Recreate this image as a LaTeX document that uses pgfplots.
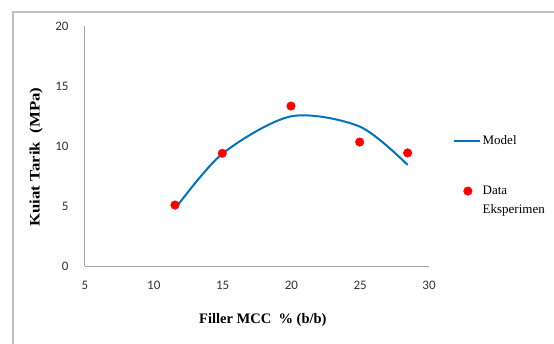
\documentclass[border=0pt]{standalone}
\usepackage{graphicx}
\usepackage{fontspec}
\setmainfont{Liberation Serif}
\newfontfamily\tickfont{Carlito}
\usepackage{pgfplots}
\pgfplotsset{compat=1.18}
\definecolor{modelblue}{RGB}{0,112,192}
\definecolor{framegray}{RGB}{191,191,191}
\definecolor{axisgray}{RGB}{166,166,166}
\pgfplotsset{
  lineleg/.style={legend image code/.code={\draw[##1] (0pt,0pt) -- (26pt,0pt);}},
  markleg/.style={legend image code/.code={\path[draw=none,fill=none] (0pt,0pt) -- (26pt,0pt);
     \draw[overlay,mark repeat=2,mark phase=2,##1] plot coordinates {(0pt,9.5pt)(13.7pt,9.5pt)(26pt,9.5pt)};}},
}
\begin{document}
\begin{tikzpicture}
\useasboundingbox (0,0) rectangle (554pt,343pt);
\draw[framegray, line width=1.5pt] (13pt,-5pt) -- (13pt,331pt) -- (560pt,331pt);
\begin{axis}[
  at={(85pt,77pt)}, anchor=south west,
  scale only axis, width=344pt, height=240pt,
  xmin=5, xmax=30, ymin=0, ymax=20,
  xtick={5,10,...,30}, ytick={0,5,...,20},
  axis x line=bottom, axis y line=left,
  axis line style={axisgray, line width=1pt, -},
  major tick length=0pt,
  tick label style={font=\tickfont\fontsize{13}{14}\selectfont, text=black!80},
  /pgf/number format/assume math mode=true,
  xticklabel style={yshift=-12pt},
  yticklabel style={xshift=-13pt},
  xlabel={Filler MCC \ \% (b/b)},
  ylabel={\scalebox{1.16}[1]{Kuiat Tarik \ (MPa)}},
  label style={font=\bfseries\fontsize{14.5}{16}\selectfont},
  xlabel style={at={(axis description cs:0.517,-0.225)}, anchor=center},
  ylabel style={at={(axis description cs:-0.142,0.454)}, anchor=center},
  legend style={draw=none, fill=none, at={(axis description cs:1.061,0.559)}, anchor=north west,
    font=\fontsize{13}{19}\selectfont, nodes={align=left, inner sep=1.5pt}, row sep=37pt},
  legend cell align=left,
  clip=false,
]
\addplot[modelblue, line width=2pt, smooth, lineleg]
  coordinates {(11.54,4.75) (14.98,9.35) (19.97,12.47) (24.96,11.62) (28.45,8.42)};
\addlegendentry{Model}
\addplot[only marks, mark=*, mark size=4.3pt, draw=red, fill=red, markleg]
  coordinates {(11.54,5.08) (14.98,9.39) (19.97,13.33) (24.96,10.33) (28.45,9.42)};
\addlegendentry{Data\\Eksperimen}
\end{axis}
\end{tikzpicture}
\end{document}
